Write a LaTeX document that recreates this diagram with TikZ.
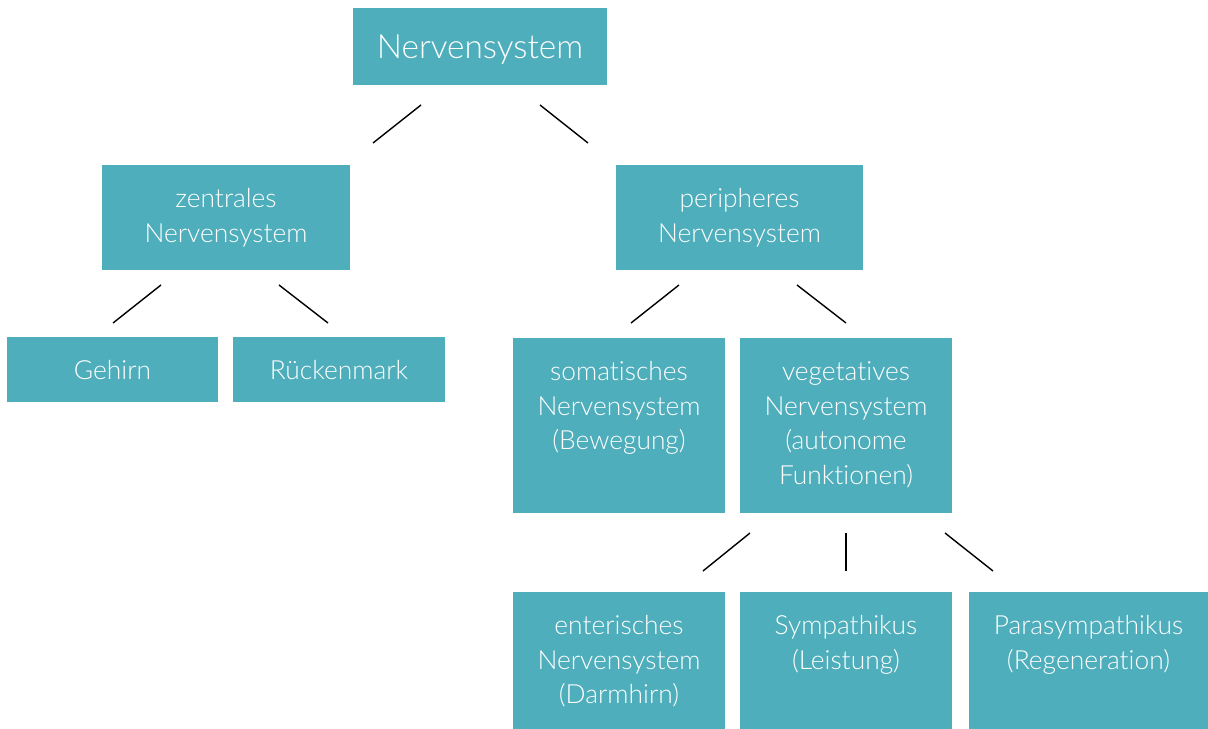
\documentclass[tikz,border=0pt]{standalone}
\usepackage{fontspec}
\setmainfont{Lato}[UprightFont=* Light, Ligatures=NoCommon]
\definecolor{teal1}{RGB}{79,174,187}
\tikzset{
  box/.style={fill=teal1, draw=none, inner sep=0pt, anchor=center},
  lbl/.style={text=white, inner sep=0pt, align=center, text width=4.6cm, anchor=base,
    font={\fontsize{15}{19.6}\selectfont}},
  big/.style={text=white, inner sep=0pt, anchor=base, font={\fontsize{19}{23}\selectfont}},
  conn/.style={draw=black, line width=0.8pt}
}
\begin{document}
\begin{tikzpicture}[x=0.02cm, y=-0.02cm]
\useasboundingbox (0,0) rectangle (1208,729);
% boxes
\node[box, minimum width=5.08cm, minimum height=1.54cm] (root) at (480,46.5) {};
\node[box, minimum width=4.96cm, minimum height=2.1cm] (zns) at (226,217.5) {};
\node[box, minimum width=4.94cm, minimum height=2.1cm] (pns) at (739.5,217.5) {};
\node[box, minimum width=4.22cm, minimum height=1.3cm] (geh) at (112.5,369.5) {};
\node[box, minimum width=4.24cm, minimum height=1.3cm] (rm) at (339,369.5) {};
\node[box, minimum width=4.24cm, minimum height=3.5cm] (som) at (619,425.5) {};
\node[box, minimum width=4.24cm, minimum height=3.5cm] (veg) at (846,425.5) {};
\node[box, minimum width=4.24cm, minimum height=2.74cm] (ent) at (619,660.5) {};
\node[box, minimum width=4.24cm, minimum height=2.74cm] (sym) at (846,660.5) {};
\node[box, minimum width=4.78cm, minimum height=2.74cm] (para) at (1088.5,660.5) {};
% labels
\node[big] (troot) at (480,59) {Nervensystem};
\node[lbl] (tzns) at (226,208) {zentrales\\Nervensystem};
\node[lbl] (tpns) at (739.5,208) {peripheres\\Nervensystem};
\node[lbl] (tgeh) at (112.5,380) {Gehirn};
\node[lbl] (trm) at (339,380) {Rückenmark};
\node[lbl] (tsom) at (619,381) {somatisches\\Nervensystem\\(Bewegung)};
\node[lbl] (tveg) at (846,381) {vegetatives\\Nervensystem\\(autonome\\Funktionen)};
\node[lbl] (tent) at (619,635) {enterisches\\Nervensystem\\(Darmhirn)};
\node[lbl] (tsym) at (846,635) {Sympathikus\\(Leistung)};
\node[lbl] (tpara) at (1088.5,635) {Parasympathikus\\(Regeneration)};
% connector end points
\coordinate (a1) at (421,105); \coordinate (b1) at (373,143);
\coordinate (a2) at (540,105); \coordinate (b2) at (588,143);
\coordinate (a3) at (161,285); \coordinate (b3) at (113,323);
\coordinate (a4) at (279,285); \coordinate (b4) at (328,323);
\coordinate (a5) at (679,285); \coordinate (b5) at (631,323);
\coordinate (a6) at (797,285); \coordinate (b6) at (846,323);
\coordinate (a7) at (750,533); \coordinate (b7) at (703,571);
\coordinate (a8) at (846,533); \coordinate (b8) at (846,571);
\coordinate (a9) at (945,533); \coordinate (b9) at (993,571);
\foreach \i in {1,...,9} { \draw[conn] (a\i) -- (b\i); }
\end{tikzpicture}
\end{document}
